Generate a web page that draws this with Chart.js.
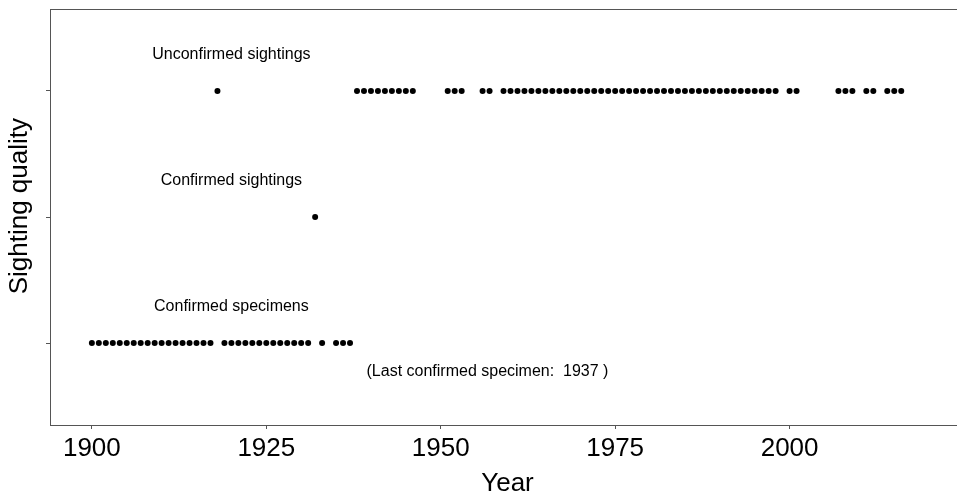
<!DOCTYPE html>
<html>
<head>
<meta charset="utf-8">
<script src="https://cdn.jsdelivr.net/npm/chart.js@4"></script>
<style>
html,body{margin:0;padding:0;background:#fff;overflow:hidden;}
#wrap{width:957px;height:492px;overflow:hidden;position:relative;}
canvas{display:block;}
</style>
</head>
<body>
<div id="wrap"><canvas id="c" width="968" height="492"></canvas></div>
<script>
// ---- data ----
const categories = ['Confirmed specimens', 'Confirmed sightings', 'Unconfirmed sightings'];
const specimenYears = [1900,1901,1902,1903,1904,1905,1906,1907,1908,1909,1910,1911,1912,1913,1914,1915,1916,1917,
  1919,1920,1921,1922,1923,1924,1925,1926,1927,1928,1929,1930,1931,1933,1935,1936,1937];
const confirmedSightingYears = [1932];
const unconfirmedYears = [1918,1938,1939,1940,1941,1942,1943,1944,1945,1946,1951,1952,1953,1956,1957,
  1959,1960,1961,1962,1963,1964,1965,1966,1967,1968,1969,1970,1971,1972,1973,1974,1975,1976,1977,1978,
  1979,1980,1981,1982,1983,1984,1985,1986,1987,1988,1989,1990,1991,1992,1993,1994,1995,1996,1997,1998,
  2000,2001,2007,2008,2009,2011,2012,2014,2015,2016];
const xTickYears = [1900, 1925, 1950, 1975, 2000];
const yTickValues = [0, 1, 2];
const labelYear = 1920;
const labelOffset = 0.29;
const lastSpecimenNote = '(Last confirmed specimen:  1937 )';
const noteYear = 1956.7;
const noteY = -0.23;

const seriesYears = [specimenYears, confirmedSightingYears, unconfirmedYears];
const points = [];
seriesYears.forEach((yrs, idx) => yrs.forEach(y => points.push({x: y, y: idx})));

const axisColor = '#555555';
const FONT = '"Liberation Sans", Arial, sans-serif';

const annotations = {
  id: 'annotations',
  afterDatasetsDraw(chart) {
    const {ctx, scales: {x, y}} = chart;
    ctx.save();
    ctx.fillStyle = '#000';
    ctx.font = '16px ' + FONT;
    ctx.textAlign = 'center';
    ctx.textBaseline = 'middle';
    categories.forEach((cat, i) => {
      ctx.fillText(cat, x.getPixelForValue(labelYear), y.getPixelForValue(i + labelOffset));
    });
    ctx.fillText(lastSpecimenNote, x.getPixelForValue(noteYear), y.getPixelForValue(noteY));
    ctx.restore();
  }
};

new Chart(document.getElementById('c'), {
  type: 'scatter',
  data: {
    datasets: [{
      data: points,
      pointRadius: 3,
      pointHoverRadius: 3,
      pointBackgroundColor: '#000',
      pointBorderColor: '#000',
      pointBorderWidth: 0,
      showLine: false
    }]
  },
  options: {
    responsive: false,
    animation: false,
    devicePixelRatio: 1,
    layout: {padding: 0},
    plugins: {legend: {display: false}, tooltip: {enabled: false}},
    scales: {
      x: {
        type: 'linear',
        position: 'bottom',
        min: 1894,
        max: 2025.14,
        afterBuildTicks: (axis) => { axis.ticks = xTickYears.map(v => ({value: v})); },
        afterFit: (axis) => { axis.height = 67; },
        ticks: {
          color: '#000',
          font: {family: FONT, size: 26},
          padding: 4,
          maxRotation: 0,
          callback: (v) => String(v)
        },
        grid: {drawOnChartArea: false, drawTicks: true, tickLength: 4, color: axisColor},
        border: {display: true, color: axisColor, width: 1},
        title: {display: true, text: 'Year', color: '#000', font: {family: FONT, size: 26}, padding: {top: 0, bottom: -7}}
      },
      x2: {
        type: 'linear',
        position: 'top',
        min: 1894,
        max: 2025.14,
        afterFit: (axis) => { axis.height = 9; },
        ticks: {display: false},
        grid: {drawOnChartArea: false, drawTicks: false},
        border: {display: true, color: axisColor, width: 1}
      },
      y: {
        type: 'linear',
        position: 'left',
        min: -0.65,
        max: 2.65,
        afterBuildTicks: (axis) => { axis.ticks = yTickValues.map(v => ({value: v})); },
        afterFit: (axis) => { axis.width = 50; },
        ticks: {callback: () => '', padding: 0},
        grid: {drawOnChartArea: false, drawTicks: true, tickLength: 4, color: axisColor},
        border: {display: true, color: axisColor, width: 1},
        title: {display: true, text: '   Sighting quality', color: '#000', font: {family: FONT, size: 26}, padding: {top: 4, bottom: 0}}
      }
    }
  },
  plugins: [annotations]
});
</script>
</body>
</html>
